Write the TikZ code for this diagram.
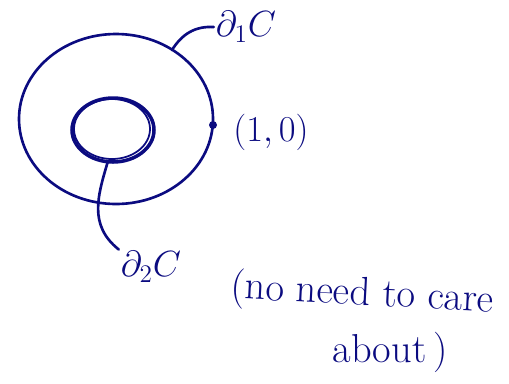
\documentclass[tikz,border=0pt]{standalone}
\usepackage{tikz}
\usetikzlibrary{positioning}
\definecolor{ink}{HTML}{0B0B80}

\begin{document}
\begin{tikzpicture}[
  x=0.02cm, y=-0.02cm,
  % one pen for every stroke, as in the sketch
  pen/.style={draw=ink, line width=1.5pt, line cap=round, line join=round},
  lbl/.style={text=ink, font=\fontsize{20}{24}\selectfont, inner sep=1pt},
  note/.style={lbl, font=\fontsize{23}{27}\selectfont}
]
\useasboundingbox (0,0) rectangle (509,383);

% outer boundary
\draw[pen] (116,119) ellipse [x radius=97, y radius=85];
% inner boundary, gone over a few times
\draw[pen, line width=2pt] (113,130) ellipse [x radius=41, y radius=32];
\draw[pen, line width=1pt] (112,129) ellipse [x radius=38, y radius=30];

\coordinate (top)  at (172,50);
\coordinate (inb)  at (108,161);
\fill[ink] (213,125) circle [radius=4] coordinate (pt);

\node[lbl] (d1)  at (246,27)  {$\partial_1 C$};
\node[lbl] (one) at (271,132) {$(1,0)$};
\node[lbl] (d2)  at (151,267) {$\partial_2 C$};
\node[note, rotate=-3] (care)  at (362,295) {(no need to care};
\node[note] (about) at (390,352) {about\,)};

\draw[pen] (top) .. controls (182,34) and (195,26) .. (d1.west);
\draw[pen] (inb) .. controls (98,195) and (88,225) .. (d2.north west);

\end{tikzpicture}
\end{document}
